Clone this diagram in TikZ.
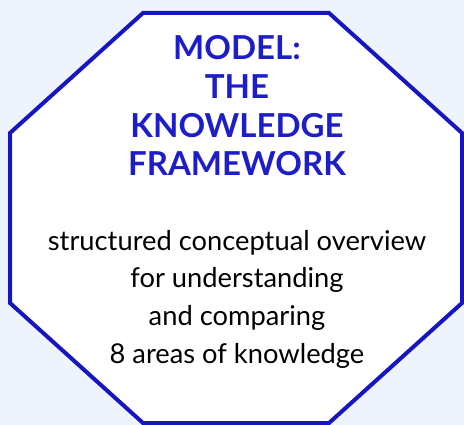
\documentclass[tikz,border=0pt]{standalone}
\usepackage{fontspec}
\setmainfont{Lato}
\usetikzlibrary{math}
\definecolor{bgblue}{RGB}{238,243,252}
\definecolor{octblue}{RGB}{22,22,192}
\definecolor{ttlblue}{RGB}{30,30,200}

\begin{document}
\begin{tikzpicture}[x=1pt,y=-1pt]
            \tikzmath{\oL = 10; \oR = 462; \oT = 13; \oB = 423; \cx = 143; \cy = 133;}
            \fill[bgblue] (0,0) rectangle (464,425);
            \useasboundingbox (0,0) rectangle (464,425);

            \draw[octblue, line width=4pt, fill=white] (\cx,\oT) -- (\oR+\oL-\cx,\oT) -- (\oR,\cy) -- (\oR,\oB+\oT-\cy)
                -- (\oR+\oL-\cx,\oB) -- (\cx,\oB) -- (\oL,\oB+\oT-\cy) -- (\oL,\cy) -- cycle;

            \node[text=ttlblue, align=center, inner sep=0pt, font=\fontsize{33}{38.7}\selectfont\bfseries] (T) at (237,106)
                {MODEL:\\THE\\KNOWLEDGE\\FRAMEWORK};
            \node[align=center, inner sep=0pt, font=\fontsize{27.3}{37.7}\selectfont] (S) at (237,299)
                {structured conceptual overview\\for understanding\\and comparing\\8 areas of knowledge};
        \end{tikzpicture}
\end{document}
